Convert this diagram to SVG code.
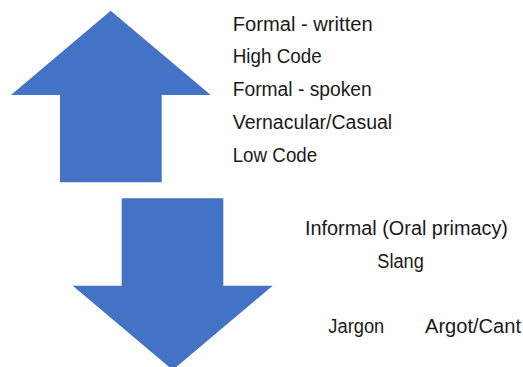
<svg xmlns="http://www.w3.org/2000/svg" width="523" height="367" viewBox="0 0 523 367">
<style>
.arrow{fill:#4472C4;stroke:none}
.t{font-family:"Liberation Sans",Arial,sans-serif;font-size:19.5px;fill:#1a1a1a}
</style>
<rect width="523" height="367" fill="#ffffff"/>
<g id="up-arrow">
<polygon class="arrow" points="110.7,10.7 210.7,95 161.7,95 161.7,182.3 60,182.3 60,95 11,95"/>
</g>
<g id="down-arrow">
<polygon class="arrow" points="121.7,198.3 223.3,198.3 223.3,285.7 272.7,285.7 172.7,370 72.7,285.7 121.7,285.7"/>
</g>
<g id="upper-labels">
<text class="t" x="232.7" y="30.7" textLength="140" lengthAdjust="spacingAndGlyphs">Formal - written</text>
<text class="t" x="232.7" y="63.3" textLength="89" lengthAdjust="spacingAndGlyphs">High Code</text>
<text class="t" x="232.7" y="96.3" textLength="139" lengthAdjust="spacingAndGlyphs">Formal - spoken</text>
<text class="t" x="232.7" y="129" textLength="159.5" lengthAdjust="spacingAndGlyphs">Vernacular/Casual</text>
<text class="t" x="232.7" y="161.7" textLength="84.5" lengthAdjust="spacingAndGlyphs">Low Code</text>
</g>
<g id="lower-labels">
<text class="t" x="305" y="235" textLength="203" lengthAdjust="spacingAndGlyphs">Informal (Oral primacy)</text>
<text class="t" x="377.3" y="268.3" textLength="46.5" lengthAdjust="spacingAndGlyphs">Slang</text>
<text class="t" x="328.3" y="333.3" textLength="56" lengthAdjust="spacingAndGlyphs">Jargon</text>
<text class="t" x="425" y="333.3" textLength="96" lengthAdjust="spacingAndGlyphs">Argot/Cant</text>
</g>
</svg>
